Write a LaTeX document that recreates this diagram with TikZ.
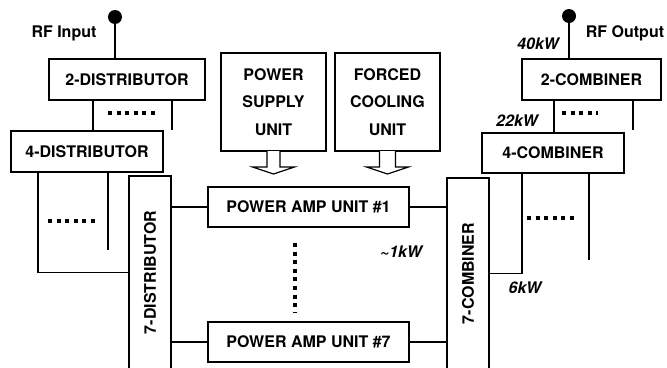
\documentclass[tikz,border=0pt]{standalone}
\usepackage{fontspec}
\setmainfont{TeX Gyre Heros}
\begin{document}
\begin{tikzpicture}[x=1pt,y=-1pt,
  box/.style={draw, line width=1.3pt, fill=white, inner sep=0pt, outer sep=0pt,
    font=\bfseries\fontsize{16}{27.5}\selectfont, align=center},
  wire/.style={line width=1.8pt},
  dots/.style={line width=3.6pt, dash pattern=on 4pt off 4.6pt},
  lbl/.style={font=\bfseries\itshape\fontsize{16}{19}\selectfont, inner sep=0pt},
  tlbl/.style={font=\bfseries\fontsize{16}{19}\selectfont, inner sep=0pt},
  blockarrow/.style={draw, line width=1.2pt, fill=white, line join=miter}]
\useasboundingbox (0,0) rectangle (667,367);

% boxes
\node[box, minimum width=156pt, minimum height=41pt] (dist2) at (127,79.5) {2-DISTRIBUTOR};
\node[box, minimum width=152pt, minimum height=41pt] (dist4) at (87,151.5) {4-DISTRIBUTOR};
\node[box, rotate=90, minimum width=193pt, minimum height=42pt] (dist7) at (150,272.5) {7-DISTRIBUTOR};
\node[box, minimum width=105pt, minimum height=98pt] (psu) at (273.5,102) {POWER\\SUPPLY\\UNIT};
\node[box, minimum width=105pt, minimum height=98pt] (fcu) at (387.5,102) {FORCED\\COOLING\\UNIT};
\node[box, minimum width=201pt, minimum height=40pt] (pa1) at (308.5,207) {POWER AMP UNIT \#1};
\node[box, minimum width=201pt, minimum height=40pt] (pa7) at (308.5,342) {POWER AMP UNIT \#7};
\node[box, rotate=90, minimum width=191pt, minimum height=42pt] (comb7) at (468,273.5) {7-COMBINER};
\node[box, minimum width=142pt, minimum height=40pt] (comb4) at (553,153) {4-COMBINER};
\node[box, minimum width=139pt, minimum height=41pt] (comb2) at (591.5,79.5) {2-COMBINER};

% terminals
\coordinate (rfin) at (115,17);
\coordinate (rfout) at (569,16);
\fill (rfin) circle (7pt);
\fill (rfout) circle (7pt);
\draw[wire] (rfin) -- (rfin |- dist2.north);
\draw[wire] (rfout) -- (rfout |- comb2.north);

% distributor tree
\draw[wire] ([xshift=-34pt]dist2.south) -- ([xshift=-34pt]dist2.south |- dist4.north);
\draw[wire] ([xshift=45pt]dist2.south) -- ++(0,30);
\draw[dots] ([xshift=-19pt,yshift=-13pt]dist2.south) -- ++(49,0);
\draw[wire] ([xshift=-49pt]dist4.south) |- (dist7.north);
\draw[wire] ([xshift=21pt]dist4.south) -- ++(0,78);
\draw[dots] ([xshift=-39pt,yshift=-49pt]dist4.south) -- ++(49,0);

% amplifier connections
\draw[wire] (pa1.west -| dist7.south) -- (pa1.west);
\draw[wire] (pa7.west -| dist7.south) -- (pa7.west);
\draw[wire] (pa1.east) -- (pa1.east -| comb7.north);
\draw[wire] (pa7.east) -- (pa7.east -| comb7.north);
\draw[dots] ([xshift=-13.5pt,yshift=-16pt]pa1.south) -- ++(0,69);

% combiner tree
\draw[wire] (comb7.south) -| ([xshift=-31pt]comb4.south);
\draw[wire] ([xshift=36pt]comb4.south) -- ++(0,87);
\draw[dots] ([xshift=-26pt,yshift=-45pt]comb4.south) -- ++(50,0);
\draw[wire] ([xshift=-37.5pt]comb2.south) -- ([xshift=-37.5pt]comb2.south |- comb4.north);
\draw[wire] ([xshift=41.5pt]comb2.south) -- ++(0,30);
\draw[dots] ([xshift=-29.5pt,yshift=-13pt]comb2.south) -- ++(36,0);

% block arrows
\draw[blockarrow] ([xshift=-6.5pt]psu.south) -- ++(0,16) -- ++(-14.5,0) -- ++(21,7) -- ++(21,-7) -- ++(-14.5,0) -- ++(0,-16);
\draw[blockarrow] ([xshift=-8pt]fcu.south) -- ++(0,16) -- ++(-13,0) -- ++(21,7) -- ++(21,-7) -- ++(-13,0) -- ++(0,-16);

% labels
\node[tlbl] (lin) at (64,33) {RF Input};
\node[tlbl] (lout) at (625,33) {RF Output};
\node[lbl] (l40) at (538,44) {40kW};
\node[lbl] (l22) at (517,121) {22kW};
\node[lbl] (l1) at (401,252) {\textasciitilde1kW};
\node[lbl] (l6) at (525,288) {6kW};
\end{tikzpicture}
\end{document}
